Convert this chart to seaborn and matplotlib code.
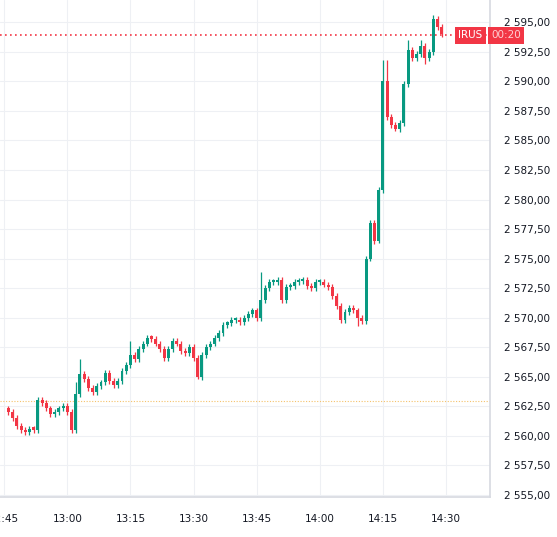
import matplotlib
matplotlib.use("Agg")
import matplotlib.pyplot as plt
import seaborn as sns
import numpy as np

closes = [2562.0,2561.5,2560.8,2560.5,2560.3,2560.6,2560.5,2563.0,2562.8,2562.3,2561.8,2562.0,2562.3,2562.5,2562.0,2560.5,
          2563.5,2565.2,2564.8,2564.0,2563.7,2564.2,2564.5,2565.3,2564.6,2564.3,2564.6,2565.5,2566.0,2566.8,2566.5,
          2567.3,2567.8,2568.3,2568.2,2567.8,2567.3,2566.6,2567.3,2568.0,2567.8,2567.2,2567.0,2567.5,2566.6,2565.0,
          2566.8,2567.5,2567.8,2568.3,2568.7,2569.4,2569.5,2569.8,2569.8,2569.6,2570.0,2570.3,2570.6,2570.0,2571.5,
          2572.5,2573.0,2573.0,2573.2,2571.5,2572.6,2572.7,2573.0,2573.1,2573.2,2572.7,2572.5,2573.0,2573.0,2572.8,
          2572.6,2571.8,2571.0,2569.8,2570.5,2570.8,2570.6,2570.0,2569.7,2575.0,2578.0,2576.5,2580.8,2590.0,2587.0,
          2586.3,2586.0,2586.5,2589.8,2592.7,2592.0,2592.3,2593.0,2592.0,2592.5,2595.3,2594.6,2594.0]
first_open = 2562.3
spike_highs = {16: 2564.5, 17: 2566.5, 29: 2568.0, 60: 2573.9, 89: 2591.8, 90: 2591.8, 95: 2593.5, 98: 2593.5, 101: 2595.6}
spike_lows = {15: 2560.2, 45: 2564.8, 83: 2569.3, 88: 2576.3, 92: 2585.8, 99: 2591.5}
start_minute = 46  # 12:46 (minutes after 12:00)
tick_labels = ["12:45", "13:00", "13:15", "13:30", "13:45", "14:00", "14:15", "14:30"]
tick_minutes = [45, 60, 75, 90, 105, 120, 135, 150]
last_price = 2593.9
level_line = 2562.9

sns.set_theme(style="white")
plt.rcParams['font.family'] = ['DejaVu Sans']
GREEN, RED = "#089981", "#f23645"

fig = plt.figure(figsize=(5.57, 5.37), dpi=100)
ax = fig.add_axes([0, 0.0745, 0.88, 0.9255])
n = len(closes)
x = np.arange(start_minute, start_minute + n)
opens = [first_open] + closes[:-1]
for i in range(n):
    o, c = opens[i], closes[i]
    col = GREEN if c >= o else RED
    hi = spike_highs.get(i, max(o, c) + 0.25)
    lo = spike_lows.get(i, min(o, c) - 0.25)
    ax.vlines(x[i], lo, hi, color=col, lw=0.9, zorder=3)
    ax.bar(x[i], max(abs(c - o), 0.2), bottom=min(o, c), width=0.7, color=col, lw=0, zorder=4)

ax.axhline(last_price, color=RED, ls=(0, (1, 2)), lw=1.2, zorder=2)
ax.axhline(level_line, color="#f5c26b", ls=(0, (1, 1.5)), lw=0.8, zorder=2)
ax.set_xlim(44.0, 160.5)
ax.set_ylim(2554.8, 2596.9)
ax.set_xticks(tick_minutes)
ax.set_xticklabels(tick_labels)
yt = np.arange(2555, 2596, 2.5)
ax.set_yticks(yt)
ax.yaxis.tick_right()
ax.set_yticklabels([f"{v:,.2f}".replace(",", " ").replace(".", ",") for v in yt])
ax.tick_params(axis="both", labelsize=7.5, colors="#131722", length=0)
ax.tick_params(axis="x", pad=12)
ax.tick_params(axis="y", pad=10)
ax.grid(True, color="#eef0f4", lw=0.8)
for s in ["top", "left"]:
    ax.spines[s].set_visible(False)
ax.spines["right"].set_color("#d8dbe2")
ax.spines["bottom"].set_color("#d8dbe2")
ax.text(0.935, last_price, "IRUS", transform=ax.get_yaxis_transform(), color="white", fontsize=7.5,
        va="center", ha="left", bbox=dict(boxstyle="square,pad=0.3", fc=RED, ec="none"), zorder=6)
ax.text(1.002, last_price, "00:20", transform=ax.get_yaxis_transform(), color="#ffd0d4", fontsize=7.5,
        va="center", ha="left", bbox=dict(boxstyle="square,pad=0.3", fc=RED, ec="none"), zorder=6)
fig.savefig("out.png", dpi=100)
